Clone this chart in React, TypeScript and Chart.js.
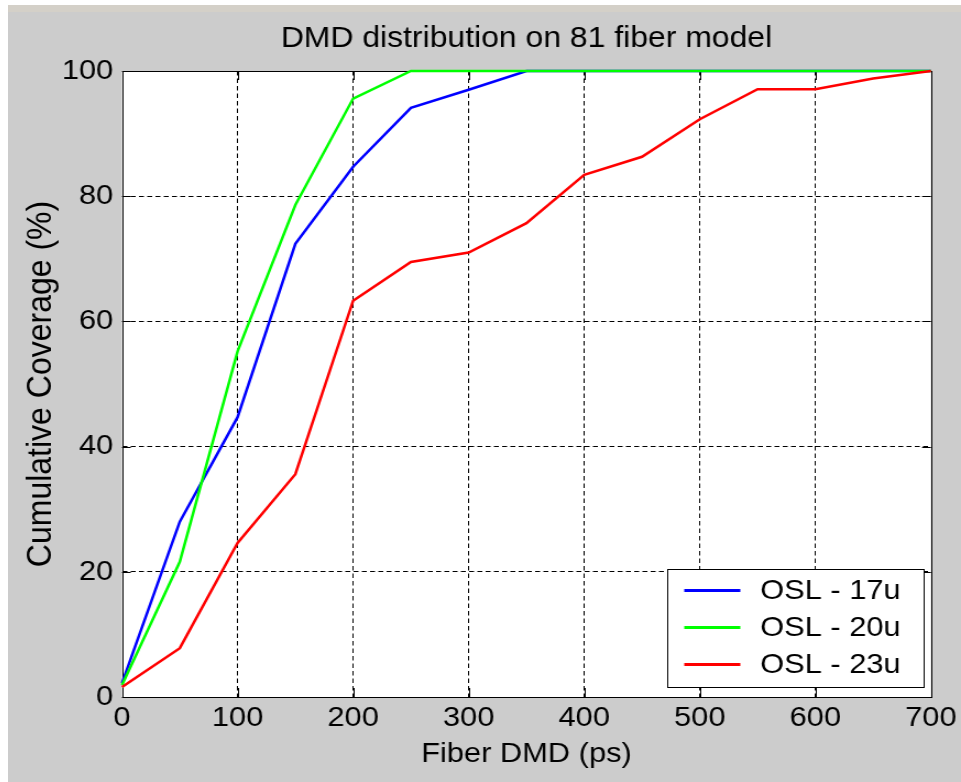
import React, { useEffect, useRef } from "react";
import { Chart, registerables } from "chart.js";

Chart.register(...registerables);

// ---- data ----
const xValues = [0, 50, 100, 150, 200, 250, 300, 350, 400, 450, 500, 550, 600, 650, 700];
const osl17 = [2.2, 28.0, 44.7, 72.4, 84.7, 94.1, 97.0, 100, 100, 100, 100, 100, 100, 100, 100];
const osl20 = [1.9, 21.6, 55.2, 78.6, 95.6, 100, 100, 100, 100, 100, 100, 100, 100, 100, 100];
const osl23 = [1.6, 7.8, 24.6, 35.6, 63.3, 69.5, 71.0, 75.7, 83.4, 86.3, 92.3, 97.1, 97.1, 98.8, 100];
const seriesLabels = ["OSL - 17u", "OSL - 20u", "OSL - 23u"];
const seriesColors = ["#0000ff", "#00ff00", "#ff0000"];
const xTicks = [0, 100, 200, 300, 400, 500, 600, 700];
const yTicks = [0, 20, 40, 60, 80, 100];
const chartTitle = "DMD distribution on 81 fiber model";
const xTitle = "Fiber DMD (ps)";
const yTitle = "Cumulative Coverage (%)";

const FONT = "'Liberation Sans', Arial, Helvetica, sans-serif";
const CANVAS_W = 866;
const CANVAS_H = 770;
const STRETCH = 953 / CANVAS_W;

const framePlugin = {
  id: "frame",
  beforeDraw(chart: any) {
    const { ctx, chartArea } = chart;
    const { left, right, top, bottom } = chartArea;
    ctx.save();
    ctx.fillStyle = "#ffffff";
    ctx.fillRect(left, top, right - left, bottom - top);
    // chart title, centred over the plot area
    ctx.fillStyle = "#000";
    ctx.font = `29px ${FONT}`;
    ctx.textAlign = "center";
    ctx.textBaseline = "middle";
    ctx.fillText(chartTitle, (left + right) / 2, 27);
    ctx.restore();
  },
  beforeDatasetsDraw(chart: any) {
    const { ctx, chartArea } = chart;
    const { left, right, top, bottom } = chartArea;
    const xs = chart.scales.x;
    const ys = chart.scales.y;
    ctx.save();
    ctx.strokeStyle = "#000";
    ctx.lineWidth = 1;
    ctx.setLineDash([]);
    ctx.strokeRect(Math.round(left) + 0.5, Math.round(top) + 0.5, Math.round(right - left), Math.round(bottom - top));
    ctx.beginPath();
    xTicks.forEach((v) => {
      const px = Math.round(xs.getPixelForValue(v)) + 0.5;
      ctx.moveTo(px, bottom);
      ctx.lineTo(px, bottom - 9);
      ctx.moveTo(px, top);
      ctx.lineTo(px, top + 9);
    });
    yTicks.forEach((v) => {
      const py = Math.round(ys.getPixelForValue(v)) + 0.5;
      ctx.moveTo(left, py);
      ctx.lineTo(left + 8, py);
      ctx.moveTo(right, py);
      ctx.lineTo(right - 8, py);
    });
    ctx.stroke();
    ctx.restore();
  },
};

const boxLegendPlugin = {
  id: "boxLegend",
  afterDatasetsDraw(chart: any) {
    const { ctx, chartArea } = chart;
    const boxW = 233;
    const boxH = 118;
    const bx = Math.round(chartArea.right - 7 - boxW) + 0.5;
    const by = Math.round(chartArea.bottom - 10 - boxH) + 0.5;
    ctx.save();
    ctx.fillStyle = "#ffffff";
    ctx.fillRect(bx, by, boxW, boxH);
    ctx.strokeStyle = "#000";
    ctx.lineWidth = 1;
    ctx.setLineDash([]);
    ctx.strokeRect(bx, by, boxW, boxH);
    chart.data.datasets.forEach((ds: any, i: number) => {
      const cy = by + 21 + i * 37;
      ctx.strokeStyle = ds.borderColor;
      ctx.lineWidth = 3;
      ctx.beginPath();
      ctx.moveTo(bx + 15, cy);
      ctx.lineTo(bx + 66, cy);
      ctx.stroke();
      ctx.fillStyle = "#000";
      ctx.font = `28px ${FONT}`;
      ctx.textBaseline = "middle";
      ctx.textAlign = "left";
      ctx.fillText(ds.label, bx + 84, cy + 1);
    });
    ctx.restore();
  },
};

export default function App() {
  const canvasRef = useRef<HTMLCanvasElement | null>(null);

  useEffect(() => {
    if (!canvasRef.current) return;
    const series = [osl17, osl20, osl23];
    const datasets = series.map((vals, i) => ({
      label: seriesLabels[i],
      data: xValues.map((x, j) => ({ x, y: vals[j] })),
      borderColor: seriesColors[i],
      backgroundColor: seriesColors[i],
      borderWidth: 2.5,
      pointRadius: 0,
      tension: 0,
      fill: false,
      clip: false as any,
      order: 2 - i,
    }));

    const gridColor = (c: any) => {
      const v = c.tick && c.tick.value;
      return v === c.scale.min || v === c.scale.max ? "rgba(0,0,0,0)" : "#000";
    };

    const chart = new Chart(canvasRef.current, {
      type: "line",
      data: { datasets },
      options: {
        animation: false,
        responsive: false,
        maintainAspectRatio: false,
        layout: { padding: { left: 0, right: 24, top: 59, bottom: 0 } },
        plugins: {
          legend: { display: false },
          tooltip: { enabled: false },
          title: { display: false },
        },
        scales: {
          x: {
            type: "linear",
            min: 0,
            max: 700,
            afterBuildTicks: (s: any) => {
              s.ticks = xTicks.map((v) => ({ value: v }));
            },
            afterFit: (s: any) => {
              s.height = 85;
            },
            grid: { color: gridColor, lineWidth: 1, drawTicks: false },
            border: { display: false, dash: [4.5, 3] },
            ticks: {
              color: "#000",
              font: { family: FONT, size: 28 },
              padding: 4,
              maxRotation: 0,
              autoSkip: false,
            },
            title: {
              display: true,
              text: xTitle,
              color: "#000",
              font: { family: FONT, size: 28 },
              padding: { top: 0, bottom: 11 },
            },
          },
          y: {
            type: "linear",
            min: 0,
            max: 100,
            afterBuildTicks: (s: any) => {
              s.ticks = yTicks.map((v) => ({ value: v }));
            },
            afterFit: (s: any) => {
              s.width = 103.6;
            },
            grid: { color: gridColor, lineWidth: 1, drawTicks: false },
            border: { display: false, dash: [4.5, 3] },
            ticks: {
              color: "#000",
              font: { family: FONT, size: 28 },
              padding: 8,
              autoSkip: false,
            },
            title: {
              display: true,
              text: yTitle,
              color: "#000",
              font: { family: FONT, size: 32 },
              padding: { top: 11, bottom: 0 },
            },
          },
        },
      } as any,
      plugins: [framePlugin, boxLegendPlugin],
    });
    return () => chart.destroy();
  }, []);

  return (
    <div style={{ position: "fixed", left: 0, top: 0, width: 961, height: 782, background: "#ffffff", overflow: "hidden" }}>
      <div style={{ position: "absolute", left: 8, top: 5, width: 953, height: 7, background: "#d4d0c8" }} />
      <div style={{ position: "absolute", left: 8, top: 12, width: 953, height: 770, background: "#cccccc" }}>
        <div
          style={{
            width: CANVAS_W,
            height: CANVAS_H,
            transform: `scaleX(${STRETCH})`,
            transformOrigin: "0 0",
          }}
        >
          <canvas ref={canvasRef} width={CANVAS_W} height={CANVAS_H} style={{ display: "block" }} />
        </div>
      </div>
    </div>
  );
}
